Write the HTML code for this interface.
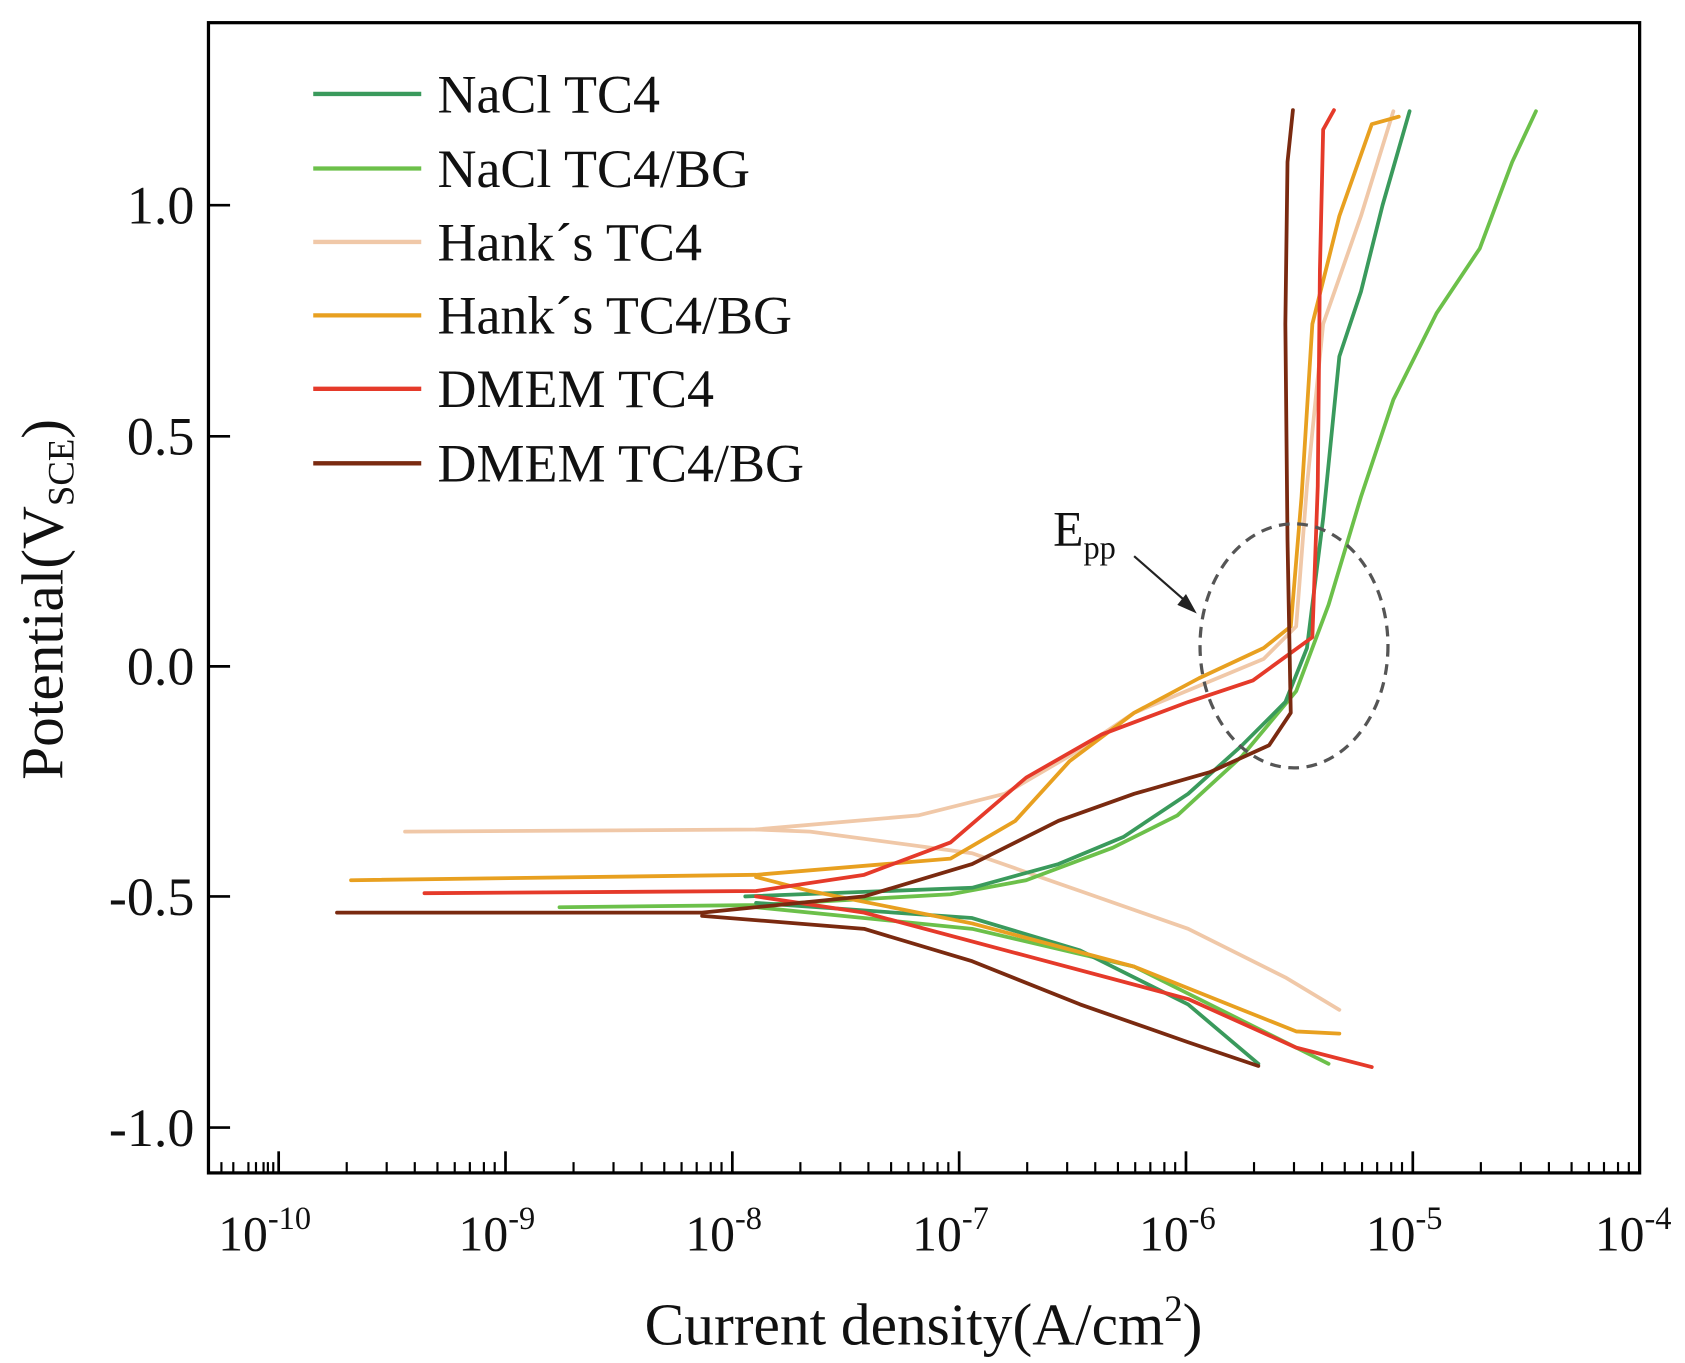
<!DOCTYPE html>
<html><head><meta charset="utf-8"><style>
html,body{margin:0;padding:0;background:#fff;}
svg{display:block;}
text{font-family:"Liberation Serif",serif;fill:#111;}
</style></head><body>
<svg width="1685" height="1363" viewBox="0 0 1560 1262" preserveAspectRatio="none" xmlns="http://www.w3.org/2000/svg">
<rect x="0" y="0" width="1560" height="1262" fill="#fff"/>
<rect x="193" y="21" width="1325" height="1065" fill="none" stroke="#000" stroke-width="3"/>
<g stroke="#000" stroke-width="2.5">
<line x1="193" y1="190" x2="213" y2="190"/>
<line x1="193" y1="404" x2="213" y2="404"/>
<line x1="193" y1="617" x2="213" y2="617"/>
<line x1="193" y1="830" x2="213" y2="830"/>
<line x1="193" y1="1044" x2="213" y2="1044"/>
</g>
<g stroke="#000" stroke-width="2.5">
<line x1="258" y1="1086" x2="258" y2="1066"/>
<line x1="468" y1="1086" x2="468" y2="1066"/>
<line x1="678" y1="1086" x2="678" y2="1066"/>
<line x1="888" y1="1086" x2="888" y2="1066"/>
<line x1="1098" y1="1086" x2="1098" y2="1066"/>
<line x1="1308" y1="1086" x2="1308" y2="1066"/>
</g>
<g stroke="#000" stroke-width="2">
<line x1="205" y1="1086" x2="205" y2="1076"/><line x1="216" y1="1086" x2="216" y2="1076"/><line x1="230" y1="1086" x2="230" y2="1076"/><line x1="237" y1="1086" x2="237" y2="1076"/><line x1="244" y1="1086" x2="244" y2="1076"/><line x1="248" y1="1086" x2="248" y2="1076"/><line x1="253" y1="1086" x2="253" y2="1076"/>
<line x1="321" y1="1086" x2="321" y2="1076"/><line x1="358" y1="1086" x2="358" y2="1076"/><line x1="384" y1="1086" x2="384" y2="1076"/><line x1="405" y1="1086" x2="405" y2="1076"/><line x1="421" y1="1086" x2="421" y2="1076"/><line x1="435" y1="1086" x2="435" y2="1076"/><line x1="448" y1="1086" x2="448" y2="1076"/><line x1="458" y1="1086" x2="458" y2="1076"/>
<line x1="531" y1="1086" x2="531" y2="1076"/><line x1="568" y1="1086" x2="568" y2="1076"/><line x1="594" y1="1086" x2="594" y2="1076"/><line x1="615" y1="1086" x2="615" y2="1076"/><line x1="631" y1="1086" x2="631" y2="1076"/><line x1="645" y1="1086" x2="645" y2="1076"/><line x1="658" y1="1086" x2="658" y2="1076"/><line x1="668" y1="1086" x2="668" y2="1076"/>
<line x1="741" y1="1086" x2="741" y2="1076"/><line x1="778" y1="1086" x2="778" y2="1076"/><line x1="804" y1="1086" x2="804" y2="1076"/><line x1="825" y1="1086" x2="825" y2="1076"/><line x1="841" y1="1086" x2="841" y2="1076"/><line x1="855" y1="1086" x2="855" y2="1076"/><line x1="868" y1="1086" x2="868" y2="1076"/><line x1="878" y1="1086" x2="878" y2="1076"/>
<line x1="951" y1="1086" x2="951" y2="1076"/><line x1="988" y1="1086" x2="988" y2="1076"/><line x1="1014" y1="1086" x2="1014" y2="1076"/><line x1="1035" y1="1086" x2="1035" y2="1076"/><line x1="1051" y1="1086" x2="1051" y2="1076"/><line x1="1065" y1="1086" x2="1065" y2="1076"/><line x1="1078" y1="1086" x2="1078" y2="1076"/><line x1="1088" y1="1086" x2="1088" y2="1076"/>
<line x1="1161" y1="1086" x2="1161" y2="1076"/><line x1="1198" y1="1086" x2="1198" y2="1076"/><line x1="1224" y1="1086" x2="1224" y2="1076"/><line x1="1245" y1="1086" x2="1245" y2="1076"/><line x1="1261" y1="1086" x2="1261" y2="1076"/><line x1="1275" y1="1086" x2="1275" y2="1076"/><line x1="1288" y1="1086" x2="1288" y2="1076"/><line x1="1298" y1="1086" x2="1298" y2="1076"/>
<line x1="1371" y1="1086" x2="1371" y2="1076"/><line x1="1408" y1="1086" x2="1408" y2="1076"/><line x1="1434" y1="1086" x2="1434" y2="1076"/><line x1="1455" y1="1086" x2="1455" y2="1076"/><line x1="1471" y1="1086" x2="1471" y2="1076"/><line x1="1485" y1="1086" x2="1485" y2="1076"/><line x1="1498" y1="1086" x2="1498" y2="1076"/><line x1="1508" y1="1086" x2="1508" y2="1076"/>
</g>
<g font-size="50" text-anchor="end">
<text x="180" y="207">1.0</text>
<text x="180" y="421">0.5</text>
<text x="180" y="634">0.0</text>
<text x="180" y="847">-0.5</text>
<text x="180" y="1061">-1.0</text>
</g>
<g font-size="46" text-anchor="middle">
<text x="245" y="1158">10<tspan font-size="30" dy="-20">-10</tspan></text>
<text x="460" y="1158">10<tspan font-size="30" dy="-20">-9</tspan></text>
<text x="670" y="1158">10<tspan font-size="30" dy="-20">-8</tspan></text>
<text x="880" y="1158">10<tspan font-size="30" dy="-20">-7</tspan></text>
<text x="1090" y="1158">10<tspan font-size="30" dy="-20">-6</tspan></text>
<text x="1300" y="1158">10<tspan font-size="30" dy="-20">-5</tspan></text>
<text x="1512" y="1158">10<tspan font-size="30" dy="-20">-4</tspan></text>
</g>
<text x="855" y="1245" font-size="55" text-anchor="middle">Current density(A/cm<tspan font-size="34" dy="-22">2</tspan><tspan dy="22">)</tspan></text>
<text transform="translate(58,555) rotate(-90)" font-size="55" text-anchor="middle">Potential(V<tspan font-size="34" dy="10">SCE</tspan><tspan dy="-10">)</tspan></text>
<g stroke-width="4">
<line x1="290" y1="87" x2="390" y2="87" stroke="#3a9a5c"/>
<line x1="290" y1="156" x2="390" y2="156" stroke="#6cc04a"/>
<line x1="290" y1="224" x2="390" y2="224" stroke="#f0c8a8"/>
<line x1="290" y1="292" x2="390" y2="292" stroke="#e8a020"/>
<line x1="290" y1="360" x2="390" y2="360" stroke="#e53a2a"/>
<line x1="290" y1="429" x2="390" y2="429" stroke="#7a2a10"/>
</g>
<g font-size="50">
<text x="405" y="104">NaCl TC4</text>
<text x="405" y="173">NaCl TC4/BG</text>
<text x="405" y="241">Hank´s TC4</text>
<text x="405" y="309">Hank´s  TC4/BG</text>
<text x="405" y="377">DMEM TC4</text>
<text x="405" y="446">DMEM TC4/BG</text>
</g>
<g fill="none" stroke-width="3.5" stroke-linejoin="round" stroke-linecap="round">
<polyline stroke="#f0c8a8" points="375,770 700,768 850,755 930,735 990,700 1050,660 1110,635 1170,610 1200,580 1210,450 1225,300 1260,200 1290,103"/>
<polyline stroke="#f0c8a8" points="700,768 750,770 900,790 1000,825 1100,860 1190,905 1240,935"/>
<polyline stroke="#6cc04a" points="518,840 700,838 880,828 950,815 1030,785 1090,755 1150,700 1200,640 1230,560 1260,460 1290,370 1330,290 1370,230 1400,150 1422,103"/>
<polyline stroke="#6cc04a" points="700,840 900,860 1050,895 1150,945 1230,985"/>
<polyline stroke="#3a9a5c" points="690,830 900,822 980,800 1040,775 1100,735 1150,690 1190,650 1210,600 1225,480 1240,330 1260,270 1280,190 1305,103"/>
<polyline stroke="#3a9a5c" points="700,836 900,850 1000,880 1100,930 1165,985"/>
<polyline stroke="#e8a020" points="325,815 700,810 880,795 940,760 990,705 1050,660 1110,628 1170,600 1195,580 1205,460 1215,300 1240,200 1270,115 1295,108"/>
<polyline stroke="#e8a020" points="700,812 750,825 900,855 1050,895 1150,935 1200,955 1240,957"/>
<polyline stroke="#e53a2a" points="393,827 700,825 800,810 880,780 950,720 1020,680 1100,650 1160,630 1215,590 1220,450 1222,250 1225,120 1235,102"/>
<polyline stroke="#e53a2a" points="700,830 800,845 950,885 1100,925 1200,970 1270,988"/>
<polyline stroke="#7a2a10" points="312,845 650,845 800,830 900,800 980,760 1050,735 1120,715 1175,690 1195,660 1192,500 1190,300 1192,150 1197,102"/>
<polyline stroke="#7a2a10" points="650,848 800,860 900,890 1000,930 1100,965 1165,987"/>
</g>
<ellipse cx="1198" cy="598" rx="87" ry="113" fill="none" stroke="#555" stroke-width="3" stroke-dasharray="10,7"/>
<text x="975" y="505" font-size="46">E<tspan font-size="30" dy="12">pp</tspan></text>
<line x1="1050" y1="515" x2="1098" y2="557" stroke="#222" stroke-width="2"/>
<polygon points="1108,568 1090,560 1098,550" fill="#222"/>
</svg>
</body></html>
